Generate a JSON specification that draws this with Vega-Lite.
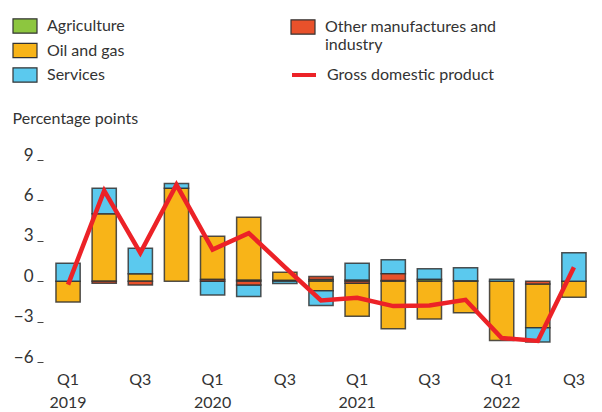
{
  "$schema": "https://vega.github.io/schema/vega-lite/v6.json",
  "width": 542,
  "height": 202,
  "autosize": "none",
  "padding": {"left": 50, "top": 160, "right": 10, "bottom": 50},
  "background": "white",
  "config": {
    "font": "Lato",
    "view": {"stroke": null},
    "scale": {"bandPaddingInner": 0.33, "bandPaddingOuter": 0.165},
    "axisX": {"domain": false, "ticks": false, "labelAngle": 0, "labelFontSize": 16, "labelColor": "#333", "labelPadding": 9, "labelLineHeight": 23, "labelBaseline": "top"},
    "axisY": {"domain": false, "grid": false, "ticks": true, "tickSize": 6, "tickColor": "#444", "tickWidth": 1, "offset": 7, "labelFontSize": 17, "labelColor": "#333", "labelPadding": 4, "labelBaseline": "alphabetic", "titleAngle": 0, "titleAlign": "left", "titleBaseline": "middle", "titleX": -31, "titleY": -42, "titleFontSize": 16, "titleFontWeight": "normal", "titleColor": "#333"},
    "legend": {"orient": "none", "title": null, "padding": 0, "labelFontSize": 16, "labelColor": "#333", "labelOffset": 9, "labelLimit": 0, "rowPadding": 1.5, "symbolSize": 576}
  },
  "datasets": {
    "sectors": [
      {"q": "2019 Q1", "sector": "Oil and gas", "ord": 3, "value": -1.55},
      {"q": "2019 Q1", "sector": "Services", "ord": 4, "value": 1.33},
      {"q": "2019 Q2", "sector": "Other manufactures and industry", "ord": 2, "value": -0.15},
      {"q": "2019 Q2", "sector": "Oil and gas", "ord": 3, "value": 5.0},
      {"q": "2019 Q2", "sector": "Services", "ord": 4, "value": 1.9},
      {"q": "2019 Q3", "sector": "Other manufactures and industry", "ord": 2, "value": -0.28},
      {"q": "2019 Q3", "sector": "Oil and gas", "ord": 3, "value": 0.55},
      {"q": "2019 Q3", "sector": "Services", "ord": 4, "value": 1.9},
      {"q": "2019 Q4", "sector": "Oil and gas", "ord": 3, "value": 6.9},
      {"q": "2019 Q4", "sector": "Services", "ord": 4, "value": 0.35},
      {"q": "2020 Q1", "sector": "Other manufactures and industry", "ord": 2, "value": 0.12},
      {"q": "2020 Q1", "sector": "Oil and gas", "ord": 3, "value": 3.22},
      {"q": "2020 Q1", "sector": "Services", "ord": 4, "value": -1.02},
      {"q": "2020 Q2", "sector": "Agriculture", "ord": 1, "value": 0.08},
      {"q": "2020 Q2", "sector": "Other manufactures and industry", "ord": 2, "value": -0.28},
      {"q": "2020 Q2", "sector": "Oil and gas", "ord": 3, "value": 4.66},
      {"q": "2020 Q2", "sector": "Services", "ord": 4, "value": -0.86},
      {"q": "2020 Q3", "sector": "Agriculture", "ord": 1, "value": 0.07},
      {"q": "2020 Q3", "sector": "Oil and gas", "ord": 3, "value": 0.6},
      {"q": "2020 Q3", "sector": "Services", "ord": 4, "value": -0.18},
      {"q": "2020 Q4", "sector": "Agriculture", "ord": 1, "value": 0.12},
      {"q": "2020 Q4", "sector": "Other manufactures and industry", "ord": 2, "value": 0.22},
      {"q": "2020 Q4", "sector": "Oil and gas", "ord": 3, "value": -0.7},
      {"q": "2020 Q4", "sector": "Services", "ord": 4, "value": -1.1},
      {"q": "2021 Q1", "sector": "Agriculture", "ord": 1, "value": 0.08},
      {"q": "2021 Q1", "sector": "Other manufactures and industry", "ord": 2, "value": -0.15},
      {"q": "2021 Q1", "sector": "Oil and gas", "ord": 3, "value": -2.45},
      {"q": "2021 Q1", "sector": "Services", "ord": 4, "value": 1.25},
      {"q": "2021 Q2", "sector": "Agriculture", "ord": 1, "value": 0.05},
      {"q": "2021 Q2", "sector": "Other manufactures and industry", "ord": 2, "value": 0.5},
      {"q": "2021 Q2", "sector": "Oil and gas", "ord": 3, "value": -3.53},
      {"q": "2021 Q2", "sector": "Services", "ord": 4, "value": 1.05},
      {"q": "2021 Q3", "sector": "Agriculture", "ord": 1, "value": 0.15},
      {"q": "2021 Q3", "sector": "Oil and gas", "ord": 3, "value": -2.8},
      {"q": "2021 Q3", "sector": "Services", "ord": 4, "value": 0.77},
      {"q": "2021 Q4", "sector": "Agriculture", "ord": 1, "value": 0.03},
      {"q": "2021 Q4", "sector": "Oil and gas", "ord": 3, "value": -2.35},
      {"q": "2021 Q4", "sector": "Services", "ord": 4, "value": 0.97},
      {"q": "2022 Q1", "sector": "Oil and gas", "ord": 3, "value": -4.4},
      {"q": "2022 Q1", "sector": "Services", "ord": 4, "value": 0.15},
      {"q": "2022 Q2", "sector": "Other manufactures and industry", "ord": 2, "value": -0.2},
      {"q": "2022 Q2", "sector": "Oil and gas", "ord": 3, "value": -3.26},
      {"q": "2022 Q2", "sector": "Services", "ord": 4, "value": -1.05},
      {"q": "2022 Q3", "sector": "Oil and gas", "ord": 3, "value": -1.2},
      {"q": "2022 Q3", "sector": "Services", "ord": 4, "value": 2.12}
    ],
    "gdp": [
      {"q": "2019 Q1", "series": "Gross domestic product", "gdp": -0.25},
      {"q": "2019 Q2", "series": "Gross domestic product", "gdp": 6.72},
      {"q": "2019 Q3", "series": "Gross domestic product", "gdp": 2.1},
      {"q": "2019 Q4", "series": "Gross domestic product", "gdp": 7.16},
      {"q": "2020 Q1", "series": "Gross domestic product", "gdp": 2.35},
      {"q": "2020 Q2", "series": "Gross domestic product", "gdp": 3.57},
      {"q": "2020 Q3", "series": "Gross domestic product", "gdp": 1.05},
      {"q": "2020 Q4", "series": "Gross domestic product", "gdp": -1.43},
      {"q": "2021 Q1", "series": "Gross domestic product", "gdp": -1.23},
      {"q": "2021 Q2", "series": "Gross domestic product", "gdp": -1.85},
      {"q": "2021 Q3", "series": "Gross domestic product", "gdp": -1.8},
      {"q": "2021 Q4", "series": "Gross domestic product", "gdp": -1.38},
      {"q": "2022 Q1", "series": "Gross domestic product", "gdp": -4.22},
      {"q": "2022 Q2", "series": "Gross domestic product", "gdp": -4.44},
      {"q": "2022 Q3", "series": "Gross domestic product", "gdp": 1.04}
    ]
  },
  "layer": [
    {
      "data": {"name": "sectors"},
      "transform": [
        {"stack": "value", "groupby": ["q"], "sort": [{"field": "ord", "order": "ascending"}], "as": ["y0", "y1"], "offset": "zero"},
        {"filter": "datum.sector != 'Other manufactures and industry'"}
      ],
      "mark": {"type": "bar", "stroke": "#333", "strokeWidth": 1.5, "strokeOpacity": 0.85},
      "encoding": {
        "x": {"field": "q", "type": "ordinal", "title": null,
              "axis": {"labelExpr": "indexof(datum.value,'Q1')>=0 ? ['Q1', slice(datum.value,0,4)] : (indexof(datum.value,'Q3')>=0 ? 'Q3' : '')"}},
        "y": {"field": "y0", "type": "quantitative", "title": "Percentage points",
              "scale": {"domain": [-6, 9], "nice": false, "zero": false},
              "axis": {"values": [-6, -3, 0, 3, 6, 9], "labelExpr": "replace(datum.label, '-', '−')"}},
        "y2": {"field": "y1"},
        "fill": {"field": "sector", "type": "nominal",
                 "scale": {"domain": ["Agriculture", "Oil and gas", "Services"], "range": ["#8DC63F", "#F8B418", "#5BC9EE"]},
                 "legend": {"legendX": -38, "legendY": -147, "symbolType": "M-1,-0.6H1V0.6H-1Z", "symbolStrokeColor": "#333", "symbolStrokeWidth": 1.2, "symbolOpacity": 1}}
      }
    },
    {
      "data": {"name": "sectors"},
      "transform": [
        {"stack": "value", "groupby": ["q"], "sort": [{"field": "ord", "order": "ascending"}], "as": ["y0", "y1"], "offset": "zero"},
        {"filter": "datum.sector == 'Other manufactures and industry'"}
      ],
      "mark": {"type": "bar", "stroke": "#333", "strokeWidth": 1.5, "strokeOpacity": 0.85},
      "encoding": {
        "x": {"field": "q", "type": "ordinal", "title": null},
        "y": {"field": "y0", "type": "quantitative", "title": "Percentage points"},
        "y2": {"field": "y1"},
        "color": {"field": "sector", "type": "nominal",
                  "scale": {"domain": ["Other manufactures and industry"], "range": ["#E8512B"]},
                  "legend": {"legendX": 240, "legendY": -146, "symbolType": "M-1,-0.6H1V0.6H-1Z", "symbolStrokeColor": "#333", "symbolStrokeWidth": 1.2, "symbolOpacity": 1,
                             "labelExpr": "['Other manufactures and', 'industry']"}}
      }
    },
    {
      "mark": {"type": "rule", "color": "#111", "strokeWidth": 1.3},
      "encoding": {"y": {"datum": 0, "type": "quantitative", "title": "Percentage points"}}
    },
    {
      "data": {"name": "gdp"},
      "mark": {"type": "line", "strokeWidth": 4.5, "strokeJoin": "miter"},
      "encoding": {
        "x": {"field": "q", "type": "ordinal", "title": null},
        "y": {"field": "gdp", "type": "quantitative", "title": "Percentage points"},
        "stroke": {"field": "series", "type": "nominal",
                   "scale": {"domain": ["Gross domestic product"], "range": ["#EC2227"]},
                   "legend": {"legendX": 240, "legendY": -99, "symbolType": "stroke", "symbolStrokeWidth": 4}}
      }
    }
  ]
}
